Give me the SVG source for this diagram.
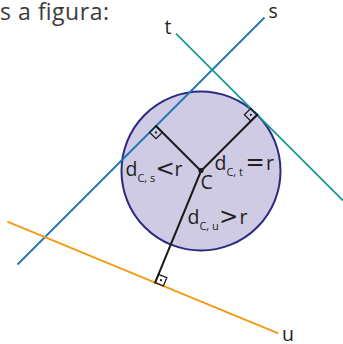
<svg xmlns="http://www.w3.org/2000/svg" width="343" height="344" viewBox="0 0 343 344">
  <style>
    .lbl { font-family: "Open Sans", "Noto Sans", sans-serif; fill: #231f20; }
    .main { font-size: 19.5px; }
    .sub { font-size: 11px; }
    .op { font-family: "DejaVu Sans", sans-serif; font-size: 23px; }
    .seg { stroke: #1a1a1a; stroke-width: 2; fill: none; stroke-linecap: round; }
    .mark { stroke: #1a1a1a; stroke-width: 1.3; fill: none; }
    .ln { stroke-width: 1.8; fill: none; }
  </style>
  <rect width="343" height="344" fill="#ffffff"/>
  <text x="0" y="20" font-family="'Open Sans', 'Noto Sans', sans-serif" font-size="23" fill="#3c3c3c" textLength="109" lengthAdjust="spacing">s a figura:</text>

  <g id="circle">
    <circle cx="201" cy="171" r="79.5" fill="#cfcbe5" stroke="#2b2a80" stroke-width="2"/>
  </g>

  <g id="lines">
    <line class="ln" x1="17.5" y1="264.5" x2="264.5" y2="17.5" stroke="#1b75bb"/>
    <line class="ln" x1="176" y1="33.6" x2="343" y2="200.6" stroke="#1a9b95"/>
    <line class="ln" x1="7.3" y1="221.7" x2="278.3" y2="333.3" stroke="#f39a12"/>
  </g>

  <g id="connectors">
    <line class="seg" x1="201" y1="171" x2="156" y2="126"/>
    <line class="seg" x1="201" y1="171" x2="257.2" y2="114.8"/>
    <line class="seg" x1="201" y1="171" x2="155.1" y2="282.6"/>
    <path class="mark" d="M156,126 L162.4,132.4 L156,138.7 L149.6,132.4 Z"/>
    <circle cx="156" cy="132.4" r="1.1" fill="#1a1a1a"/>
    <path class="mark" d="M257.2,114.8 L250.8,121.2 L244.4,114.8 L250.8,108.4 Z"/>
    <circle cx="250.8" cy="114.8" r="1.1" fill="#1a1a1a"/>
    <path class="mark" d="M155.1,282.6 L158.5,274.3 L166.8,277.7 L163.4,286 Z"/>
    <circle cx="161" cy="280.2" r="1.1" fill="#1a1a1a"/>
    <circle cx="201" cy="170.5" r="2.6" fill="#1a1a1a"/>
  </g>

  <g id="labels">
    <text class="lbl main" x="164.5" y="33.5">t</text>
    <text class="lbl main" x="268.5" y="18">s</text>
    <text class="lbl main" x="282" y="340.5">u</text>
    <text class="lbl main" x="200.5" y="188.5">C</text>
    <text class="lbl main" x="125.5" y="175.5">d<tspan class="sub" dy="6">C, s</tspan><tspan class="op" x="155.5" dy="-6">&lt;</tspan><tspan x="174.5">r</tspan></text>
    <text class="lbl main" x="214.5" y="169.5">d<tspan class="sub" dy="6">C, t</tspan><tspan class="op" x="245.5" dy="-6">=</tspan><tspan x="266">r</tspan></text>
    <text class="lbl main" x="187.5" y="223.5">d<tspan class="sub" dy="6">C, u</tspan><tspan class="op" x="219" dy="-6">&gt;</tspan><tspan x="239.5">r</tspan></text>
  </g>
</svg>
